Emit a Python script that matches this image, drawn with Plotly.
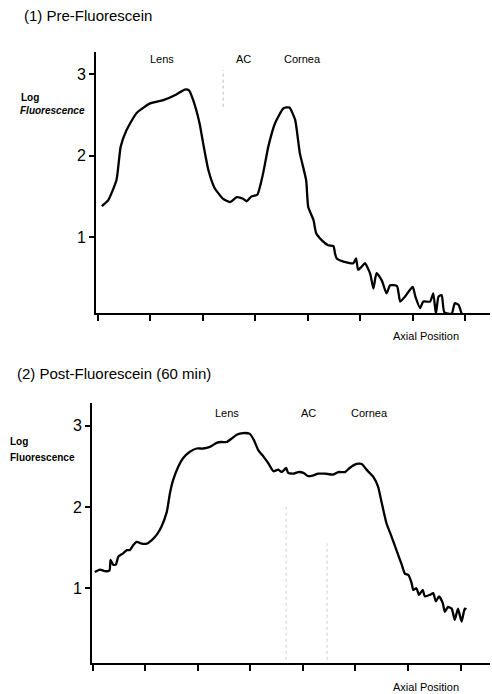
import plotly.graph_objects as go

# ---- data (x in tick units along axial position, y = log fluorescence) ----
pre_x = [0.08, 0.20, 0.36, 0.44, 0.55, 0.74, 1.00, 1.25, 1.50, 1.66, 1.74, 1.82, 1.94, 2.01, 2.11,
         2.23, 2.39, 2.52, 2.65, 2.77, 2.84, 2.93, 3.04, 3.15, 3.25, 3.38, 3.54, 3.65, 3.76, 3.85,
         3.97, 4.01, 4.11, 4.16, 4.27, 4.39, 4.49, 4.52, 4.55, 4.68, 4.87, 4.92, 4.96, 5.03, 5.09,
         5.19, 5.25, 5.31, 5.41, 5.50, 5.57, 5.70, 5.76, 5.85, 5.94, 6.00, 6.05, 6.14, 6.20, 6.33,
         6.39, 6.44, 6.49, 6.55, 6.60, 6.74, 6.80, 6.87, 6.93]
pre_y = [1.38, 1.45, 1.70, 2.11, 2.31, 2.52, 2.64, 2.68, 2.75, 2.81, 2.80, 2.68, 2.40, 2.15, 1.82,
         1.60, 1.47, 1.43, 1.49, 1.47, 1.44, 1.50, 1.52, 1.78, 2.11, 2.40, 2.58, 2.59, 2.44, 2.03,
         1.70, 1.37, 1.21, 1.05, 0.96, 0.90, 0.89, 0.80, 0.74, 0.70, 0.68, 0.74, 0.60, 0.64, 0.68,
         0.55, 0.37, 0.56, 0.47, 0.31, 0.41, 0.40, 0.21, 0.27, 0.35, 0.39, 0.27, 0.13, 0.21, 0.21,
         0.31, 0.06, 0.27, 0.29, 0.08, 0.06, 0.19, 0.17, 0.06]

post_x = [0.04, 0.14, 0.23, 0.32, 0.34, 0.39, 0.44, 0.49, 0.58, 0.65, 0.71, 0.77, 0.84, 0.93, 1.03,
          1.12, 1.22, 1.31, 1.41, 1.47, 1.53, 1.63, 1.72, 1.85, 1.98, 2.10, 2.23, 2.36, 2.45, 2.55,
          2.64, 2.74, 2.86, 2.99, 3.07, 3.15, 3.25, 3.34, 3.44, 3.53, 3.60, 3.68, 3.72, 3.82, 3.91,
          4.01, 4.10, 4.20, 4.29, 4.42, 4.58, 4.67, 4.80, 4.89, 5.02, 5.12, 5.21, 5.34, 5.43, 5.50,
          5.59, 5.69, 5.78, 5.88, 5.94, 6.01, 6.07, 6.10, 6.16, 6.21, 6.28, 6.32, 6.42, 6.48, 6.53,
          6.59, 6.66, 6.70, 6.76, 6.83, 6.89, 6.95, 7.02, 7.08, 7.11]
post_y = [1.20, 1.23, 1.21, 1.22, 1.35, 1.29, 1.29, 1.39, 1.43, 1.47, 1.47, 1.53, 1.57, 1.55, 1.55,
          1.59, 1.66, 1.76, 1.94, 2.17, 2.33, 2.50, 2.60, 2.68, 2.72, 2.72, 2.74, 2.79, 2.80, 2.80,
          2.84, 2.89, 2.91, 2.90, 2.82, 2.70, 2.62, 2.54, 2.44, 2.46, 2.43, 2.48, 2.42, 2.41, 2.43,
          2.42, 2.38, 2.39, 2.41, 2.41, 2.40, 2.43, 2.43, 2.48, 2.53, 2.53, 2.46, 2.37, 2.25, 2.05,
          1.80, 1.63, 1.47, 1.29, 1.18, 1.16, 1.06, 0.98, 1.00, 0.92, 0.98, 0.90, 0.92, 0.94, 0.84,
          0.90, 0.82, 0.71, 0.77, 0.75, 0.61, 0.75, 0.59, 0.75, 0.74]

y_ticks = [1, 2, 3]
x_ticks = [0, 1, 2, 3, 4, 5, 6, 7]
titles = ["(1) Pre-Fluorescein", "(2) Post-Fluorescein (60 min)"]
region_labels = ["Lens", "AC", "Cornea"]
pre_region_x = [1.23, 2.78, 3.90]
post_region_x = [2.55, 4.11, 5.26]
pre_boundaries = [2.39]
post_boundaries = [3.68, 4.46]

FONT = "Liberation Sans, Arial, Helvetica, sans-serif"
W, H = 492, 694

def px(x):
    return x / W

def py(y):
    return 1 - y / H

fig = go.Figure()
fig.add_trace(go.Scatter(x=pre_x, y=pre_y, mode="lines", xaxis="x", yaxis="y",
                         line=dict(color="black", width=2.3, shape="spline", smoothing=0.5),
                         showlegend=False, hoverinfo="skip"))
fig.add_trace(go.Scatter(x=post_x, y=post_y, mode="lines", xaxis="x2", yaxis="y2",
                         line=dict(color="black", width=2.3, shape="spline", smoothing=0.5),
                         showlegend=False, hoverinfo="skip"))

axis_common = dict(showgrid=False, zeroline=False, showline=True, linecolor="black", linewidth=2,
                   ticks="outside", tickcolor="black", tickwidth=1.5, mirror=False, fixedrange=True)

fig.update_layout(
    width=W, height=H,
    margin=dict(l=0, r=0, t=0, b=0),
    paper_bgcolor="white", plot_bgcolor="white",
    font=dict(family=FONT, color="black"),
    xaxis=dict(domain=[px(96), px(490)], range=[-0.03, 7.47], anchor="y",
               tickvals=x_ticks, showticklabels=False, ticklen=6, **axis_common),
    yaxis=dict(domain=[py(313), py(52)], range=[0.07, 3.27], anchor="x",
               tickvals=y_ticks, ticklen=5, tickfont=dict(size=16, family=FONT), **axis_common),
    xaxis2=dict(domain=[px(92), px(490)], range=[-0.013, 7.56], anchor="y2",
                tickvals=x_ticks, showticklabels=False, ticklen=6, **axis_common),
    yaxis2=dict(domain=[py(663), py(403)], range=[0.08, 3.28], anchor="x2",
                tickvals=y_ticks, ticklen=5, tickfont=dict(size=16, family=FONT), **axis_common),
)

annotations = []
# titles
annotations.append(dict(text=titles[0], x=px(22), y=py(15), xanchor="left", yanchor="middle",
                        font=dict(size=15, family=FONT)))
annotations.append(dict(text=titles[1], x=px(15), y=py(373), xanchor="left", yanchor="middle",
                        font=dict(size=15, family=FONT)))
# y-axis labels
annotations.append(dict(text="<b>Log</b>", x=px(19), y=py(97), xanchor="left", yanchor="middle",
                        font=dict(size=10, family=FONT)))
annotations.append(dict(text="<b><i>Fluorescence</i></b>", x=px(18), y=py(110), xanchor="left",
                        yanchor="middle", font=dict(size=10, family=FONT)))
annotations.append(dict(text="<b>Log</b>", x=px(8), y=py(442), xanchor="left", yanchor="middle",
                        font=dict(size=10, family=FONT)))
annotations.append(dict(text="<b>Fluorescence</b>", x=px(8), y=py(457), xanchor="left",
                        yanchor="middle", font=dict(size=10, family=FONT)))
# x-axis labels
annotations.append(dict(text="Axial Position", x=px(461), y=py(336), xanchor="right",
                        yanchor="middle", font=dict(size=11, family=FONT)))
annotations.append(dict(text="Axial Position", x=px(461), y=py(687), xanchor="right",
                        yanchor="middle", font=dict(size=11, family=FONT)))
# region labels
for lbl, xv in zip(region_labels, pre_region_x):
    annotations.append(dict(text=lbl, x=xv, y=3.18, xref="x", yref="y", xanchor="center",
                            yanchor="middle", showarrow=False, font=dict(size=11, family=FONT)))
for lbl, xv in zip(region_labels, post_region_x):
    annotations.append(dict(text=lbl, x=xv, y=3.16, xref="x2", yref="y2", xanchor="center",
                            yanchor="middle", showarrow=False, font=dict(size=11, family=FONT)))
for a in annotations:
    a.setdefault("xref", "paper")
    a.setdefault("yref", "paper")
    a.setdefault("showarrow", False)
fig.update_layout(annotations=annotations)

shapes = []
for bx in pre_boundaries:
    shapes.append(dict(type="line", xref="x", yref="y", x0=bx, x1=bx, y0=2.6, y1=3.05,
                       line=dict(color="#bbbbbb", width=1, dash="dot")))
for bx, top in zip(post_boundaries, [2.0, 1.55]):
    shapes.append(dict(type="line", xref="x2", yref="y2", x0=bx, x1=bx, y0=0.12, y1=top,
                       line=dict(color="#cccccc", width=1, dash="dot")))
fig.update_layout(shapes=shapes)

fig.write_html(
    "out.html",
    config={"displayModeBar": False},
    post_script="document.body.style.margin='0';document.body.style.padding='0';",
)
